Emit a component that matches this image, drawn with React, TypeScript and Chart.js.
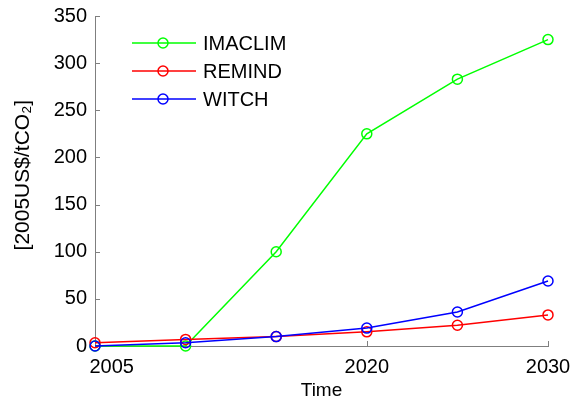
import React, { useEffect, useRef } from "react";
import { Chart, registerables } from "chart.js";

Chart.register(...registerables);

const years = [2005, 2010, 2015, 2020, 2025, 2030];
const imaclim = [0, 0, 100, 225, 283, 325];
const remind = [3.5, 7, 10, 15, 22, 33];
const witch = [0, 3.5, 10, 19, 36, 69];
const xTicks = [2005, 2020, 2030];
const yTicks = [0, 50, 100, 150, 200, 250, 300, 350];
const seriesNames = ["IMACLIM", "REMIND", "WITCH"];
const seriesColors = ["#00ff00", "#ff0000", "#0000ff"];
const seriesValues = [imaclim, remind, witch];

const FONT = "'Liberation Sans', Arial, sans-serif";
const AXIS = "#7f7f7f";

const innerTicks = {
  id: "innerTicks",
  beforeDatasetsDraw(chart: any) {
    const ctx = chart.ctx;
    const xs = chart.scales.x;
    const ys = chart.scales.y;
    const area = chart.chartArea;
    ctx.save();
    ctx.strokeStyle = AXIS;
    ctx.lineWidth = 1;
    ctx.beginPath();
    for (const v of yTicks) {
      const py = Math.round(ys.getPixelForValue(v)) + 0.5;
      ctx.moveTo(area.left, py);
      ctx.lineTo(area.left + 5, py);
    }
    for (const v of xTicks) {
      const px = Math.round(xs.getPixelForValue(v)) + 0.5;
      ctx.moveTo(px, area.bottom);
      ctx.lineTo(px, area.bottom - 5);
    }
    ctx.stroke();
    ctx.restore();
  },
};

const lineLegend = {
  id: "lineLegend",
  afterDraw(chart: any) {
    const ctx = chart.ctx;
    const x0 = 132;
    const x1 = 196;
    const cx = 163;
    const rows = [43, 71, 99];
    ctx.save();
    ctx.font = `20px ${FONT}`;
    ctx.textBaseline = "middle";
    ctx.textAlign = "left";
    seriesNames.forEach((name, i) => {
      const y = rows[i];
      ctx.strokeStyle = seriesColors[i];
      ctx.lineWidth = 1.5;
      ctx.beginPath();
      ctx.moveTo(x0, y);
      ctx.lineTo(x1, y);
      ctx.stroke();
      ctx.beginPath();
      ctx.arc(cx, y, 5, 0, Math.PI * 2);
      ctx.stroke();
      ctx.fillStyle = "#000";
      ctx.fillText(name, 203, y + 1);
    });
    ctx.restore();
  },
};

export default function App() {
  const ref = useRef<HTMLCanvasElement>(null);

  useEffect(() => {
    if (!ref.current) return;
    const chart = new Chart(ref.current, {
      type: "line",
      data: {
        datasets: seriesNames.map((name, i) => ({
          label: name,
          data: years.map((y, j) => ({ x: y, y: seriesValues[i][j] })),
          borderColor: seriesColors[i],
          backgroundColor: "transparent",
          pointBackgroundColor: "transparent",
          pointBorderColor: seriesColors[i],
          pointRadius: 5,
          pointBorderWidth: 1.5,
          borderWidth: 1.5,
          tension: 0,
          clip: false as any,
          order: 2 - i,
        })),
      },
      options: {
        responsive: false,
        animation: false,
        devicePixelRatio: 1,
        layout: { padding: { left: 0, right: 23, top: 16, bottom: 0 } },
        plugins: {
          legend: { display: false },
          tooltip: { enabled: false },
        },
        scales: {
          x: {
            type: "linear",
            min: 2005,
            max: 2030,
            afterBuildTicks: (s: any) => {
              s.ticks = xTicks.map((v) => ({ value: v }));
            },
            afterFit: (s: any) => {
              s.height = 56;
              s.paddingLeft = 0;
              s.paddingRight = 0;
            },
            ticks: {
              color: "#000",
              font: { family: FONT, size: 20 },
              padding: 9,
              maxRotation: 0,
              autoSkip: false,
              callback: (v: any) => (v === xTicks[0] ? "      " + String(v) : String(v)),
            },
            grid: { drawOnChartArea: false, drawTicks: false },
            border: { color: AXIS, width: 1 },
            title: {
              display: true,
              text: "Time",
              color: "#000",
              font: { family: FONT, size: 19 },
              padding: { top: 0, bottom: 0 },
            },
          },
          y: {
            min: 0,
            max: 350,
            afterBuildTicks: (s: any) => {
              s.ticks = yTicks.map((v) => ({ value: v }));
            },
            afterFit: (s: any) => {
              s.width = 95;
              s.paddingTop = 0;
              s.paddingBottom = 0;
            },
            ticks: {
              color: "#000",
              font: { family: FONT, size: 20 },
              padding: 8,
            },
            grid: { drawOnChartArea: false, drawTicks: false },
            border: { color: AXIS, width: 1 },
            title: {
              display: true,
              text: "  [2005US$/tCO₂]",
              color: "#000",
              font: { family: FONT, size: 21 },
              padding: { top: 11, bottom: 0 },
            },
          },
        },
      },
      plugins: [innerTicks, lineLegend],
    });
    return () => chart.destroy();
  }, []);

  return (
    <div style={{ position: "fixed", left: 0, top: 0, width: 571, height: 402, background: "#fff" }}>
      <canvas ref={ref} width={571} height={402} />
    </div>
  );
}
